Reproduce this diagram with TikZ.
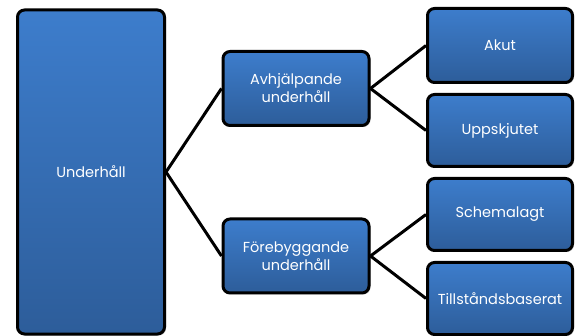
\documentclass[tikz,border=0pt]{standalone}
\usepackage{fontspec}
\setmainfont{Poppins}
\usetikzlibrary{shadows}
\definecolor{btop}{HTML}{3D7DCC}
\definecolor{bbot}{HTML}{2D5D9A}
\tikzset{
  box/.style={draw=black, line width=3pt, rounded corners=7pt, top color=btop, bottom color=bbot,
    text=white, align=center, font=\fontsize{14.5}{18}\selectfont, inner sep=0pt,
    drop shadow={shadow xshift=1.5pt, shadow yshift=-1.5pt, opacity=0.35}},
  conn/.style={draw=black, line width=3pt}
}
\begin{document}
\begin{tikzpicture}[x=1pt,y=-1pt]
\useasboundingbox (0,0) rectangle (575,336);
\node[box, minimum width=147pt, minimum height=324pt] (u) at (91,172) {Underhåll};
\node[box, minimum width=146pt, minimum height=74pt] (a) at (296,88.5) {Avhjälpande\\underhåll};
\node[box, minimum width=146pt, minimum height=74pt] (f) at (296,256) {Förebyggande\\underhåll};
\node[box, minimum width=145pt, minimum height=74pt] (ak) at (500,45.5) {Akut};
\node[box, minimum width=145pt, minimum height=72pt] (up) at (500,130.5) {Uppskjutet};
\node[box, minimum width=145pt, minimum height=72pt] (sc) at (500,214.5) {Schemalagt};
\node[box, minimum width=145pt, minimum height=72pt] (ti) at (500,298.5) {Tillståndsbaserat};
\draw[conn] (u.east) -- (a.west);
\draw[conn] (u.east) -- (f.west);
\draw[conn] (a.east) -- (ak.west);
\draw[conn] (a.east) -- (up.west);
\draw[conn] (f.east) -- (sc.west);
\draw[conn] (f.east) -- (ti.west);
\end{tikzpicture}
\end{document}
